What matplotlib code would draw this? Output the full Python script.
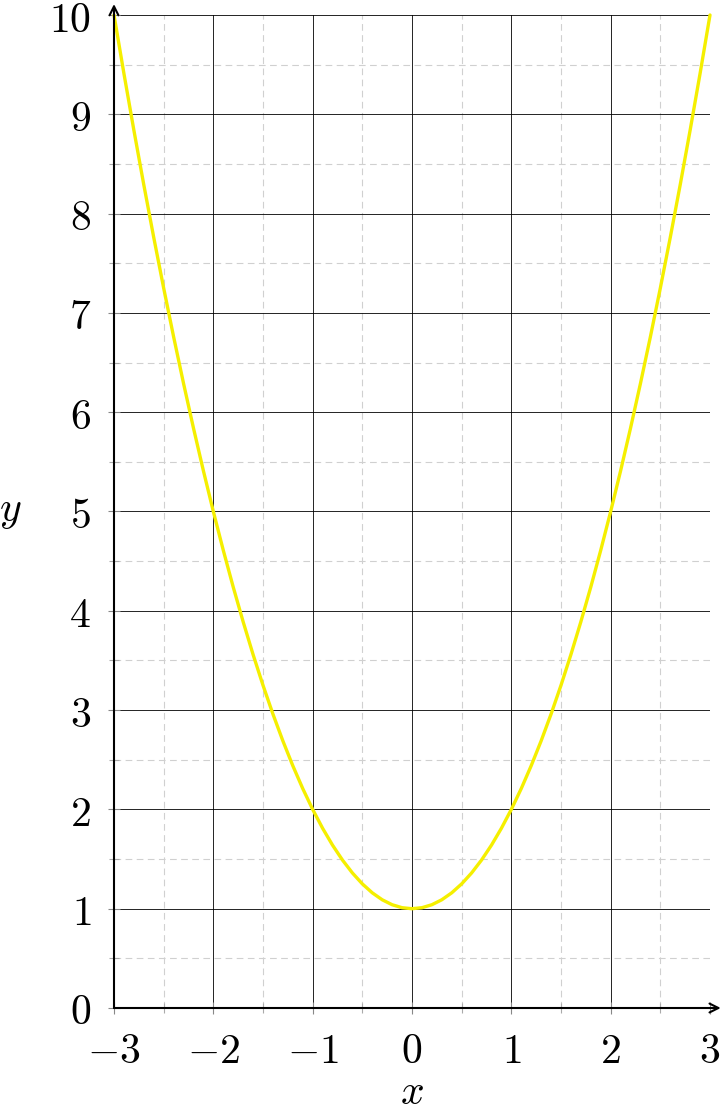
import matplotlib
matplotlib.use("Agg")
import matplotlib.pyplot as plt
from matplotlib.ticker import MultipleLocator

plt.rcParams['mathtext.fontset'] = 'cm'
plt.rcParams['font.family'] = ['DejaVu Serif']

# values
x_vals = [-3.0, -2.9, -2.8, -2.7, -2.6, -2.5, -2.4, -2.3, -2.2, -2.1,
          -2.0, -1.9, -1.8, -1.7, -1.6, -1.5, -1.4, -1.3, -1.2, -1.1,
          -1.0, -0.9, -0.8, -0.7, -0.6, -0.5, -0.4, -0.3, -0.2, -0.1,
          0.0, 0.1, 0.2, 0.3, 0.4, 0.5, 0.6, 0.7, 0.8, 0.9,
          1.0, 1.1, 1.2, 1.3, 1.4, 1.5, 1.6, 1.7, 1.8, 1.9,
          2.0, 2.1, 2.2, 2.3, 2.4, 2.5, 2.6, 2.7, 2.8, 2.9, 3.0]
y_vals = [10.00, 9.41, 8.84, 8.29, 7.76, 7.25, 6.76, 6.29, 5.84, 5.41,
          5.00, 4.61, 4.24, 3.89, 3.56, 3.25, 2.96, 2.69, 2.44, 2.21,
          2.00, 1.81, 1.64, 1.49, 1.36, 1.25, 1.16, 1.09, 1.04, 1.01,
          1.00, 1.01, 1.04, 1.09, 1.16, 1.25, 1.36, 1.49, 1.64, 1.81,
          2.00, 2.21, 2.44, 2.69, 2.96, 3.25, 3.56, 3.89, 4.24, 4.61,
          5.00, 5.41, 5.84, 6.29, 6.76, 7.25, 7.76, 8.29, 8.84, 9.41, 10.00]
x_ticks = [-3, -2, -1, 0, 1, 2, 3]
y_ticks = [0, 1, 2, 3, 4, 5, 6, 7, 8, 9, 10]

fig = plt.figure(figsize=(7.24, 11.10), dpi=100)
ax = fig.add_axes([114/724, (1110-1008)/1110, 596/724, 993/1110])

ax.set_xlim(-3, 3)
ax.set_ylim(0, 10)
ax.xaxis.set_minor_locator(MultipleLocator(0.5))
ax.yaxis.set_minor_locator(MultipleLocator(0.5))
ax.set_xticks(x_ticks)
ax.set_yticks(y_ticks)
ax.set_xticklabels([f"${'-' if v < 0 else ''}{abs(v)}$" for v in x_ticks])
ax.set_yticklabels([f"${v}$" for v in y_ticks])

ax.grid(which='minor', color='#d0d0d0', linestyle=(0, (6, 4)), linewidth=0.8)
ax.grid(which='major', color='black', linestyle='-', linewidth=0.6)
ax.set_axisbelow(True)

ax.tick_params(which='major', direction='inout', length=9, width=0.8, color='#888888',
               labelsize=30)
ax.tick_params(axis='y', which='major', pad=12)
ax.tick_params(axis='x', which='major', pad=11)
ax.tick_params(which='minor', direction='inout', length=7, width=0.8, color='#aaaaaa')

for s in ['top', 'right', 'left', 'bottom']:
    ax.spines[s].set_visible(False)

ax.plot(x_vals, y_vals, color='#f5ef00', linewidth=2.4, solid_capstyle='round', zorder=3,
        clip_on=False)

# axis arrows
ax.annotate('', xy=(1.018, 0), xytext=(0, 0), xycoords='axes fraction',
            arrowprops=dict(arrowstyle='->', lw=1.5, color='black', mutation_scale=16,
                            shrinkA=0, shrinkB=0), annotation_clip=False)
ax.annotate('', xy=(0, 1.011), xytext=(0, 0), xycoords='axes fraction',
            arrowprops=dict(arrowstyle='->', lw=1.5, color='black', mutation_scale=16,
                            shrinkA=0, shrinkB=0), annotation_clip=False)

fig.text(412/724, 1 - 1104/1110, '$x$', fontsize=30, ha='center', va='baseline')
fig.text(10/724, 1 - 510/1110, '$y$', fontsize=30, ha='center', va='center')

fig.savefig('out.png', dpi=100)
